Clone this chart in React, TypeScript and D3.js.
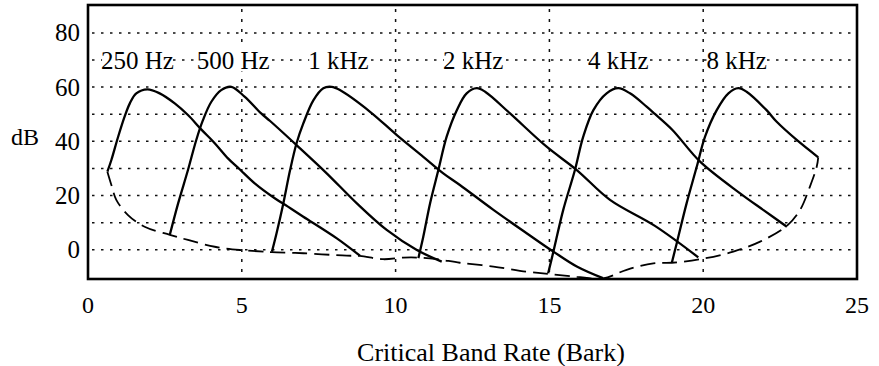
import React from 'react';
import * as d3 from 'd3';

type Pt = [number, number];

const xTicks = [0, 5, 10, 15, 20, 25];
const yTicks = [0, 20, 40, 60, 80];
const gridYValues = [0, 10, 20, 30, 40, 50, 60, 70, 80];
const gridXValues = [5, 10, 15, 20];
const maskerNames = ['250 Hz', '500 Hz', '1 kHz', '2 kHz', '4 kHz', '8 kHz'];
const labelBark = [1.61, 4.72, 8.14, 12.52, 17.24, 21.09];
const labelDb = 70;

const masker250Hz: Pt[] = [[0.63, 28.8], [0.76, 33.1], [0.98, 41.7], [1.19, 49.1], [1.36, 54.0], [1.57, 57.7], [1.93, 59.2], [2.33, 57.7], [2.82, 54.0], [3.25, 49.7], [3.68, 44.4], [4.12, 39.3], [4.55, 33.7], [4.93, 29.7], [5.42, 24.5], [6.07, 19.0], [6.5, 15.9], [7.0, 12.2], [8.09, 4.2], [8.84, -2.2]];
const masker500Hz: Pt[] = [[2.66, 5.5], [2.93, 17.1], [3.25, 29.4], [3.52, 40.5], [3.74, 47.9], [4.01, 54.6], [4.33, 58.9], [4.66, 60.1], [5.09, 56.5], [5.63, 50.3], [5.92, 47.5], [6.78, 38.6], [7.76, 28.2], [8.74, 17.1], [9.71, 7.3], [10.69, -0.1], [11.5, -4.4]];
const masker1kHz: Pt[] = [[5.98, -0.7], [6.13, 6.1], [6.35, 17.1], [6.57, 29.4], [6.78, 39.3], [7.0, 46.6], [7.33, 55.2], [7.65, 59.6], [7.92, 60.1], [8.19, 58.9], [9.17, 50.9], [10.04, 42.3], [10.9, 34.3], [11.55, 28.2], [12.09, 23.9], [13.18, 14.7], [14.26, 6.1], [15.13, -0.7], [15.89, -6.2], [16.74, -10.5]];
const masker2kHz: Pt[] = [[10.74, -3.1], [10.9, 4.8], [11.12, 17.1], [11.39, 29.4], [11.66, 41.7], [11.99, 51.5], [12.31, 57.7], [12.64, 59.6], [12.91, 58.3], [13.72, 50.3], [14.91, 38.0], [15.89, 29.4], [16.97, 18.4], [18.43, 8.8], [19.84, -2.8]];
const masker4kHz: Pt[] = [[14.96, -8.7], [15.13, -0.7], [15.45, 14.7], [15.83, 29.4], [16.1, 41.7], [16.43, 51.5], [16.86, 57.7], [17.24, 59.6], [17.62, 57.7], [18.16, 52.8], [18.43, 50.1], [19.0, 44.2], [19.9, 32.5], [21.2, 20.8], [21.95, 14.7], [22.72, 8.5]];
const masker8kHz: Pt[] = [[18.98, -4.8], [19.14, 2.4], [19.46, 17.1], [19.79, 30.6], [20.06, 41.7], [20.44, 51.5], [20.82, 57.7], [21.14, 59.6], [21.41, 58.3], [22.06, 51.5], [22.39, 47.2], [23.04, 40.5], [23.74, 34.1]];
const thresholdInQuiet: Pt[] = [[0.63, 28.8], [0.76, 23.9], [0.92, 18.4], [1.3, 12.8], [1.84, 8.5], [2.66, 5.5], [3.25, 3.6], [4.12, 1.1], [4.93, -0.1], [5.75, -0.7], [5.98, -0.9], [7.0, -1.3], [8.41, -2.2], [8.84, -2.3], [9.6, -3.5], [10.25, -2.9], [10.74, -2.9], [11.34, -3.5], [12.09, -4.8], [13.18, -6.2], [14.26, -8.1], [14.96, -8.9], [15.89, -10.0], [16.74, -10.6], [17.51, -7.4], [18.38, -5.0], [18.98, -4.8], [19.9, -3.5], [20.98, -0.7], [21.85, 3.0], [22.72, 8.8], [23.15, 14.7], [23.47, 23.3], [23.69, 30.6], [23.74, 34.1]];

const maskers = [masker250Hz, masker500Hz, masker1kHz, masker2kHz, masker4kHz, masker8kHz];

const W = 879;
const H = 366;
const FONT = "'Liberation Serif', 'Times New Roman', serif";

export default function App() {
  const ref = React.useRef<SVGSVGElement>(null);

  React.useEffect(() => {
    if (!ref.current) return;
    const svg = d3.select(ref.current);
    svg.selectAll('*').remove();

    const left = 88, right = 857, top = 5, bottom = 279;
    const x = d3.scaleLinear().domain([0, 25]).range([left, right]);
    const y = d3.scaleLinear().domain([-10.8, 90.3]).range([bottom, top]);

    svg.append('rect').attr('x', 0).attr('y', 0).attr('width', W).attr('height', H).attr('fill', '#fff');

    // grid
    const grid = svg.append('g');
    grid.selectAll('line.h').data(gridYValues).enter().append('line')
      .attr('x1', left + 4).attr('x2', right)
      .attr('y1', (d) => y(d)).attr('y2', (d) => y(d))
      .attr('stroke', '#111').attr('stroke-width', 1.5).attr('stroke-dasharray', '2.5,6.5');
    grid.selectAll('line.v').data(gridXValues).enter().append('line')
      .attr('x1', (d) => x(d)).attr('x2', (d) => x(d))
      .attr('y1', top + 4).attr('y2', bottom)
      .attr('stroke', '#111').attr('stroke-width', 1.5).attr('stroke-dasharray', '3,7');

    // masker labels with white background
    const lab = svg.append('g');
    maskerNames.forEach((name, i) => {
      const g = lab.append('g');
      const r = g.append('rect').attr('fill', '#fff');
      const t = g.append('text')
        .attr('x', x(labelBark[i])).attr('y', y(labelDb))
        .attr('text-anchor', 'middle').attr('dominant-baseline', 'central')
        .attr('font-family', FONT).attr('font-size', 25).attr('fill', '#000')
        .text(name);
      const bb = (t.node() as SVGTextElement).getBBox();
      r.attr('x', bb.x + 1).attr('y', bb.y + 2).attr('width', bb.width - 2).attr('height', bb.height - 4);
    });

    const line = d3.line<Pt>().x((d) => x(d[0])).y((d) => y(d[1])).curve(d3.curveCatmullRom.alpha(0.5));

    svg.append('g').selectAll('path').data(maskers).enter().append('path')
      .attr('d', (d) => line(d) as string)
      .attr('fill', 'none').attr('stroke', '#000').attr('stroke-width', 2.3)
      .attr('stroke-linejoin', 'round');

    svg.append('path').attr('d', line(thresholdInQuiet) as string)
      .attr('fill', 'none').attr('stroke', '#000').attr('stroke-width', 1.8)
      .attr('stroke-dasharray', '15,7');

    // frame
    svg.append('rect').attr('x', left).attr('y', top).attr('width', right - left).attr('height', bottom - top)
      .attr('fill', 'none').attr('stroke', '#000').attr('stroke-width', 2.6);

    // y tick labels
    svg.append('g').selectAll('text').data(yTicks).enter().append('text')
      .attr('x', 80).attr('y', (d) => y(d))
      .attr('text-anchor', 'end').attr('dominant-baseline', 'central')
      .attr('font-family', FONT).attr('font-size', 25).attr('fill', '#000')
      .text((d) => String(d));

    // x tick labels
    svg.append('g').selectAll('text').data(xTicks).enter().append('text')
      .attr('x', (d) => x(d)).attr('y', 313)
      .attr('text-anchor', 'middle')
      .attr('font-family', FONT).attr('font-size', 24).attr('fill', '#000')
      .text((d) => String(d));

    svg.append('text').attr('x', 11).attr('y', 137)
      .attr('dominant-baseline', 'central')
      .attr('font-family', FONT).attr('font-size', 24).attr('fill', '#000')
      .text('dB');

    svg.append('text').attr('x', 491).attr('y', 361)
      .attr('text-anchor', 'middle')
      .attr('font-family', FONT).attr('font-size', 26).attr('fill', '#000')
      .text('Critical Band Rate (Bark)');
  }, []);

  return (
    <svg ref={ref} width={W} height={H}
      style={{ position: 'absolute', left: 0, top: 0, display: 'block', background: '#fff' }} />
  );
}
